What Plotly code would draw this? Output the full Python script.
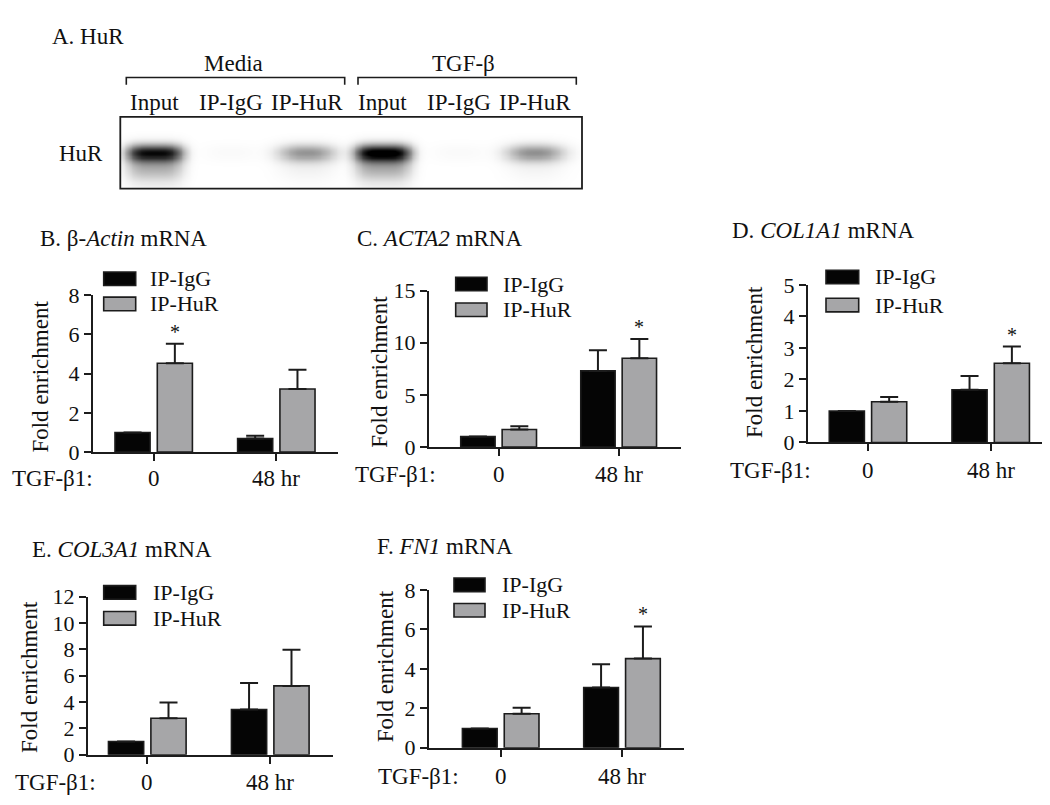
import numpy as np
import plotly.graph_objects as go

W, H = 1050, 805
FONT = "Liberation Serif, Times New Roman, serif"
AX = "#1c1c1c"
BLACK = "#050505"
GRAY = "#a6a6a8"
TXT = "#111111"

# ---------------- data ----------------
categories = ["0", "48 hr"]
series_names = ["IP-IgG", "IP-HuR"]
yaxis_title = "Fold enrichment"
x_prefix = "TGF-β1:"

# Panel B: beta-Actin
b_igg = [1.0, 0.69]
b_igg_err = [0.0, 0.15]
b_hur = [4.53, 3.22]
b_hur_err = [1.00, 0.98]
b_sig = [True, False]
b_ticks = [0, 2, 4, 6, 8]

# Panel C: ACTA2
c_igg = [1.0, 7.30]
c_igg_err = [0.0, 1.97]
c_hur = [1.68, 8.52]
c_hur_err = [0.31, 1.83]
c_sig = [False, True]
c_ticks = [0, 5, 10, 15]

# Panel D: COL1A1
d_igg = [1.0, 1.67]
d_igg_err = [0.0, 0.44]
d_hur = [1.29, 2.51]
d_hur_err = [0.15, 0.53]
d_sig = [False, True]
d_ticks = [0, 1, 2, 3, 4, 5]

# Panel E: COL3A1
e_igg = [1.0, 3.43]
e_igg_err = [0.0, 2.01]
e_hur = [2.77, 5.22]
e_hur_err = [1.20, 2.74]
e_sig = [False, False]
e_ticks = [0, 2, 4, 6, 8, 10, 12]

# Panel F: FN1
f_igg = [0.97, 3.05]
f_igg_err = [0.0, 1.18]
f_hur = [1.72, 4.52]
f_hur_err = [0.30, 1.63]
f_sig = [False, True]
f_ticks = [0, 2, 4, 6, 8]

# Panel A: western blot
blot_title = "A. HuR"
blot_row_label = "HuR"
lane_labels = ["Input", "IP-IgG", "IP-HuR", "Input", "IP-IgG", "IP-HuR"]
group_labels = ["Media", "TGF-β"]
band_core = [0.86, 0.02, 0.40, 0.97, 0.02, 0.42]
band_smear = [0.30, 0.0, 0.05, 0.32, 0.0, 0.04]


def P(px):
    return px / W


def Q(py):
    return 1 - py / H


fig = go.Figure()
annotations = []
shapes = []
layout_axes = {}

panels = [
    dict(title="B. β-<i>Actin</i> mRNA", igg=b_igg, igge=b_igg_err, hur=b_hur, hure=b_hur_err,
         sig=b_sig, ticks=b_ticks, x0=85, x1=330, y0=446, y1=284, xr=[-0.495, 1.503],
         tpos=(30, 225), ypos=(33, 368), gpos=(2, 473),
         leg=(95.7, 127.7, 267, 293, 140)),
    dict(title="C. <i>ACTA2</i> mRNA", igg=c_igg, igge=c_igg_err, hur=c_hur, hure=c_hur_err,
         sig=c_sig, ticks=c_ticks, x0=421, x1=672.7, y0=440.7, y1=279.3, xr=[-0.58, 1.517],
         tpos=(346.7, 225), ypos=(372, 363), gpos=(345, 469),
         leg=(447.7, 479, 272.5, 299, 493.3)),
    dict(title="D. <i>COL1A1</i> mRNA", igg=d_igg, igge=d_igg_err, hur=d_hur, hure=d_hur_err,
         sig=d_sig, ticks=d_ticks, x0=800, x1=1034, y0=436, y1=273.3, xr=[-0.489, 1.418],
         tpos=(721.7, 217), ypos=(746, 353), gpos=(720, 465),
         leg=(818, 850.7, 265.2, 294.2, 865)),
    dict(title="E. <i>COL3A1</i> mRNA", igg=e_igg, igge=e_igg_err, hur=e_hur, hure=e_hur_err,
         sig=e_sig, ticks=e_ticks, x0=80, x1=325, y0=758.3, y1=595, xr=[-0.482, 1.51],
         tpos=(21.7, 546), ypos=(22, 678), gpos=(5, 787),
         leg=(95.7, 127.7, 590.8, 617.5, 143.3)),
    dict(title="F. <i>FN1</i> mRNA", igg=f_igg, igge=f_igg_err, hur=f_hur, hure=f_hur_err,
         sig=f_sig, ticks=f_ticks, x0=421, x1=676, y0=751, y1=588.3, xr=[-0.591, 1.511],
         tpos=(366.7, 543), ypos=(377, 667), gpos=(368, 781),
         leg=(446, 477, 582.9, 609.2, 491.7)),
]

tick_font = dict(family=FONT, size=22, color=TXT)
cat_font = dict(family=FONT, size=23, color=TXT)
text_font = dict(family=FONT, size=23, color=TXT)
legend_font = dict(family=FONT, size=22, color=TXT)
title_font = dict(family=FONT, size=23, color=TXT)
ylab_font = dict(family=FONT, size=23, color=TXT)

for n, p in enumerate(panels, start=1):
    xs = "x" if n == 1 else f"x{n}"
    ys = "y" if n == 1 else f"y{n}"
    for name, vals, errs, color in [(series_names[0], p["igg"], p["igge"], BLACK),
                                     (series_names[1], p["hur"], p["hure"], GRAY)]:
        fig.add_trace(go.Bar(
            x=categories, y=vals, name=name, xaxis=xs, yaxis=ys, showlegend=False,
            marker=dict(color=color, line=dict(color=AX, width=1.6)),
            error_y=dict(type="data", array=errs, arrayminus=[0] * len(errs), symmetric=False,
                         color=AX, thickness=2, width=9),
            hoverinfo="skip",
        ))
    xkey = "xaxis" if n == 1 else f"xaxis{n}"
    ykey = "yaxis" if n == 1 else f"yaxis{n}"
    layout_axes[xkey] = dict(
        domain=[P(p["x0"]), P(p["x1"])], range=p["xr"], type="category",
        categoryorder="array", categoryarray=categories, anchor=ys,
        showline=True, linecolor=AX, linewidth=2, ticks="outside", ticklen=7,
        tickwidth=2, tickcolor=AX, showticklabels=False, showgrid=False, zeroline=False,
        fixedrange=True)
    layout_axes[ykey] = dict(
        domain=[Q(p["y0"]), Q(p["y1"])], range=[0, p["ticks"][-1]], anchor=xs,
        showline=True, linecolor=AX, linewidth=2, ticks="outside", ticklen=7,
        tickwidth=2, tickcolor=AX, tickvals=p["ticks"], tickfont=tick_font,
        showgrid=False, zeroline=False, fixedrange=True)

    # category labels under the x axis, on the same line as the TGF-β1 prefix
    for i, cat in enumerate(categories):
        annotations.append(dict(x=cat, y=Q(p["gpos"][1]), xref=xs, yref="paper", text=cat,
                                showarrow=False, xanchor="center", yanchor="middle",
                                font=cat_font))

    # significance stars
    for i, s in enumerate(p["sig"]):
        if s:
            annotations.append(dict(
                x=i + 0.1725, y=p["hur"][i] + p["hure"][i], xref=xs, yref=ys,
                text="*", showarrow=False, yanchor="bottom", yshift=-1,
                font=dict(family=FONT, size=20, color=TXT)))

    # panel title
    annotations.append(dict(x=P(p["tpos"][0]), y=Q(p["tpos"][1]), xref="paper", yref="paper",
                            text=p["title"], showarrow=False, xanchor="left", yanchor="middle",
                            font=title_font))
    # y title
    annotations.append(dict(x=P(p["ypos"][0]), y=Q(p["ypos"][1]), xref="paper", yref="paper",
                            text=yaxis_title, showarrow=False, textangle=-90,
                            xanchor="center", yanchor="middle", font=ylab_font))
    # TGF label
    annotations.append(dict(x=P(p["gpos"][0]), y=Q(p["gpos"][1]), xref="paper", yref="paper",
                            text=x_prefix, showarrow=False, xanchor="left", yanchor="middle",
                            font=cat_font))
    # legend
    lx0, lx1, cy1, cy2, tx = p["leg"]
    for cy, col, name in [(cy1, BLACK, series_names[0]), (cy2, GRAY, series_names[1])]:
        shapes.append(dict(type="rect", xref="paper", yref="paper",
                           x0=P(lx0), x1=P(lx1), y0=Q(cy + 7), y1=Q(cy - 7),
                           fillcolor=col, line=dict(color=AX, width=1.6)))
        annotations.append(dict(x=P(tx), y=Q(cy), xref="paper", yref="paper", text=name,
                                showarrow=False, xanchor="left", yanchor="middle",
                                font=legend_font))

# ---------------- panel A: blot ----------------
gx = np.linspace(-0.45, 5.62, 260)
gy = np.linspace(0, 1, 70)
GX, GY = np.meshgrid(gx, gy)
Z = np.zeros_like(GX)
for i, (c, s) in enumerate(zip(band_core, band_smear)):
    expo = 4 if s > 0.1 else 2.6
    hx = np.exp(-(np.abs(GX - i) / 0.37) ** expo)
    core = np.exp(-((GY - 0.5) / 0.12) ** 2)
    smear = np.exp(-((GY - 0.3) / 0.2) ** 2)
    Z += hx * (c * core + s * smear)
Z = np.clip(Z, 0, 1)

fig.add_trace(go.Heatmap(x=gx, y=gy, z=Z, xaxis="x6", yaxis="y6", zmin=0, zmax=1,
                         colorscale=[[0, "#ffffff"], [1, "#000000"]], showscale=False,
                         zsmooth="best", hoverinfo="skip"))
layout_axes["xaxis6"] = dict(domain=[P(112.3), P(574)], range=[-0.45, 5.62], anchor="y6",
                             visible=False, fixedrange=True)
layout_axes["yaxis6"] = dict(domain=[Q(174), Q(100)], range=[0, 1], anchor="x6",
                             visible=False, fixedrange=True)
shapes.append(dict(type="rect", xref="x6 domain", yref="y6 domain", x0=0, x1=1, y0=0, y1=1,
                   line=dict(color=AX, width=1.8), fillcolor="rgba(0,0,0,0)"))

for i, lab in enumerate(lane_labels):
    annotations.append(dict(x=i, y=Q(85), xref="x6", yref="paper", text=lab, showarrow=False,
                            xanchor="center", yanchor="middle", font=text_font))

for (gl, bx0, bx1, gcx) in [(group_labels[0], 118.3, 336.7, 225), (group_labels[1], 350, 568.3, 455)]:
    shapes.append(dict(type="path", xref="paper", yref="paper",
                       path=f"M {P(bx0)},{Q(66.7)} L {P(bx0)},{Q(59.3)} L {P(bx1)},{Q(59.3)} L {P(bx1)},{Q(66.7)}",
                       line=dict(color=AX, width=1.6)))
    annotations.append(dict(x=P(gcx), y=Q(45), xref="paper", yref="paper", text=gl,
                            showarrow=False, xanchor="center", yanchor="middle", font=text_font))

annotations.append(dict(x=P(41.7), y=Q(17), xref="paper", yref="paper", text=blot_title,
                        showarrow=False, xanchor="left", yanchor="middle", font=text_font))
annotations.append(dict(x=P(97), y=Q(138), xref="paper", yref="paper", text=blot_row_label,
                        showarrow=False, xanchor="right", yanchor="middle", font=text_font))

fig.update_layout(
    width=W, height=H, margin=dict(l=0, r=0, t=0, b=0),
    paper_bgcolor="white", plot_bgcolor="white",
    barmode="group", bargap=0.31, bargroupgap=0.17,
    showlegend=False, annotations=annotations, shapes=shapes,
    font=dict(family=FONT, color=TXT),
    **layout_axes,
)

fig.write_html("out.html")
